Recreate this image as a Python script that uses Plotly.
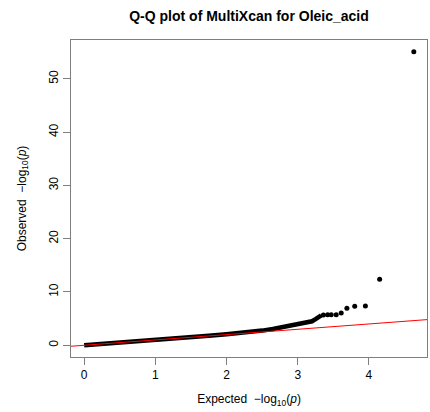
import plotly.graph_objects as go

# Tail points (expected, observed -log10 p)
tail_expected = [4.63, 4.15, 3.95, 3.80, 3.69, 3.61, 3.54, 3.47, 3.42, 3.36]
tail_observed = [55.1, 12.4, 7.36, 7.30, 6.93, 6.05, 5.75, 5.75, 5.75, 5.70]

# Dense bulk of points (read along the band)
bulk_expected = [0.0, 0.25, 0.5, 0.75, 1.0, 1.25, 1.5, 1.75, 2.0, 2.2, 2.35, 2.5, 2.65,
                 2.8, 2.95, 3.05, 3.15, 3.2, 3.25, 3.29, 3.33]
bulk_observed = [0.0, 0.23, 0.48, 0.74, 1.0, 1.27, 1.53, 1.8, 2.07, 2.3, 2.5, 2.75, 3.05,
                 3.4, 3.8, 4.05, 4.3, 4.5, 4.9, 5.35, 5.62]

x_ticks = [0, 1, 2, 3, 4]
y_ticks = [0, 10, 20, 30, 40, 50]

font = "Liberation Sans, Arial, sans-serif"

xmax = max(tail_expected)
ymax = max(tail_observed)
xr = [0 - 0.04 * xmax, xmax + 0.04 * xmax]
yr = [0 - 0.04 * ymax, ymax + 0.04 * ymax]

fig = go.Figure()
fig.add_trace(go.Scatter(x=bulk_expected, y=bulk_observed, mode="lines",
                         line=dict(color="black", width=4.5), hoverinfo="skip",
                         showlegend=False))
fig.add_trace(go.Scatter(x=tail_expected, y=tail_observed, mode="markers",
                         marker=dict(color="black", size=5), showlegend=False))
fig.add_trace(go.Scatter(x=[xr[0], xr[1]], y=[xr[0], xr[1]], mode="lines",
                         line=dict(color="red", width=1), showlegend=False))

axis_common = dict(showgrid=False, zeroline=False, showline=True, mirror=True,
                   linecolor="#7f7f7f", linewidth=1, ticks="outside", ticklen=7,
                   tickcolor="#7f7f7f", tickwidth=1,
                   tickfont=dict(family=font, size=12, color="black"))

fig.update_layout(
    width=430, height=412,
    margin=dict(l=71, r=3, t=40, b=55),
    paper_bgcolor="white", plot_bgcolor="white",
    title=dict(text="<b>Q-Q plot of MultiXcan for Oleic_acid</b>",
               x=(71 + 427) / 2 / 430, xanchor="center", y=1 - 16 / 412, yanchor="middle",
               font=dict(family=font, size=14, color="black")),
    xaxis=dict(range=xr, tickvals=x_ticks, ticktext=[str(v) for v in x_ticks],
               title=dict(text="Expected  \u2212log<sub>10</sub>(<i>p</i>)", standoff=13,
                          font=dict(family=font, size=12, color="black")),
               **axis_common),
    yaxis=dict(range=yr, tickvals=y_ticks, ticktext=[str(v) for v in y_ticks],
               tickangle=-90,
               title=dict(text="Observed  \u2212log<sub>10</sub>(<i>p</i>)", standoff=18,
                          font=dict(family=font, size=12, color="black")),
               **axis_common),
)

fig.write_html("out.html")
